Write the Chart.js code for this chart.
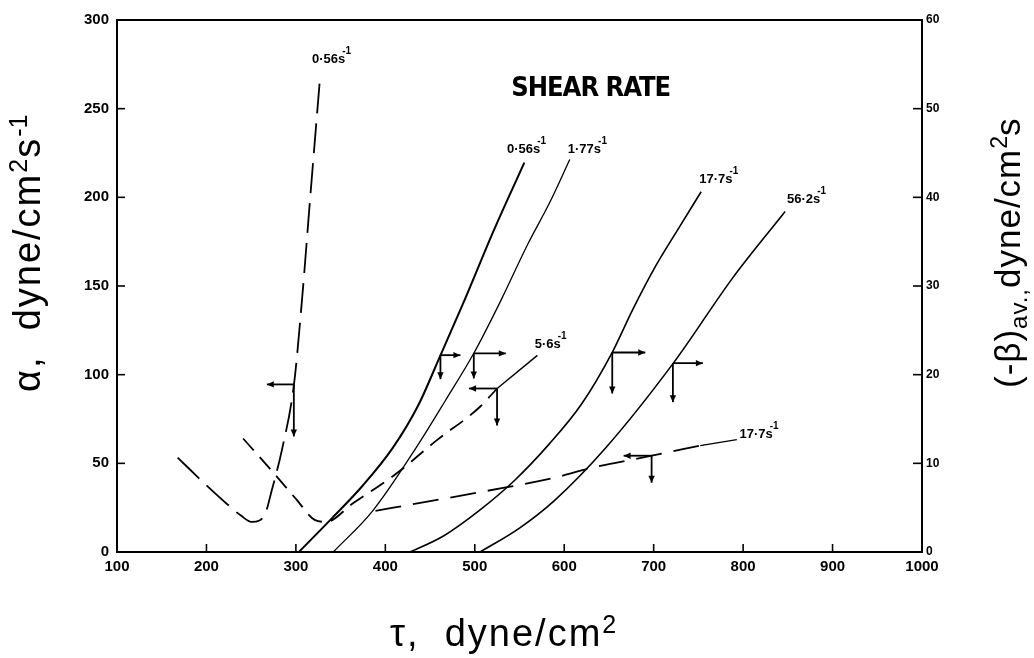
<!DOCTYPE html>
<html><head><meta charset="utf-8">
<script src="https://cdn.jsdelivr.net/npm/chart.js@4.4.0/dist/chart.umd.min.js"></script>
<style>html,body{margin:0;padding:0;background:#fff;}#wrap{width:1034px;height:658px;position:relative;}canvas{display:block;}</style>
</head><body><div id="wrap"><canvas id="c" width="1034" height="658" style="width:1034px;height:658px"></canvas></div>
<script>
// ---- tick labels ----
const X_TICKS = [100,200,300,400,500,600,700,800,900,1000];
const Y_TICKS = [0,50,100,150,200,250,300];
const Y2_TICKS = [0,10,20,30,40,50,60];

// ---- solid curves: (-beta)av vs tau (right axis) ----
const TAU_B056 = [303.4,340.7,374.6,408.5,436.7,461.6,487.6,521.5,555.4];
const BETA_B056 = [0,3.85,7.47,11.77,16.52,22.18,28.18,36.33,43.92];
const TAU_B177 = [341.8,385.9,434.5,467.2,498.9,529.4,558.8,583.6,606.2];
const BETA_B177 = [0,4.64,11.77,17.09,22.41,28.41,34.63,39.38,44.26];
const TAU_B177X = [427.7,465,504.5,544.1,583.6,619.8,653.7,676.3,702.3,728.2,753.1];
const BETA_B177X = [0,1.81,4.64,8.04,12.22,16.75,22.52,27.28,32.26,36.56,40.63];
const TAU_B562 = [506,550,589,646,722,789,847];
const BETA_B562 = [0,2.7,5.8,11.7,21.3,31.0,38.4];

// ---- dashed curves: alpha vs tau (left axis) ----
const TAU_A056 = [167.8,199.4,225.4,239,250.3,259.3,266.1,272.9,284.2,297.7,306.8,315.8,327.1];
const ALPHA_A056 = [53.2,37.9,26,20.4,17,17.8,22.1,34.5,57.2,93.9,142,198.6,268.2];
const TAU_A56 = [241,273,301,321,334,363,412,457,505,525];
const ALPHA_A56 = [64,45.8,29.4,18.1,17.0,27.2,44.1,62.8,81.5,92.2];
const TAU_A177 = [389,439,514,589,631,698,752];
const ALPHA_A177 = [23.2,27.7,34.5,41.9,47.5,54.3,60];

// ---- annotations (data coordinates) ----
const LABEL_TEXT = ['0·56s','0·56s','1·77s','17·7s','56·2s','5·6s','17·7s'];
const LABEL_TAU  = [318,536,604,751,849,567,796];
const LABEL_ALPHA= [275.5,225,225,208,197,115,64.5];
const LEADERS = [[525,92.2,570,110.9],[752,60,793,63.4]];
const ARROW_TAU  = [461.6,498.9,653.7,721.5,297.7,524.9,697.7];
const ARROW_VAL  = [22.2,22.4,22.5,21.3,94.5,92.2,54.3];
const ARROW_AXIS = ['y2','y2','y2','y2','y','y','y'];
const ARROW_DIR  = [1,1,1,1,-1,-1,-1];
const ARROW_H = [20,32,33,30,27,28,28];
const ARROW_D = [24,25,41,39,52,37,27];

const zip = (xs, ys) => xs.map((x,i)=>({x, y: ys[i]}));

function ds(xs, ys, axis, width, dash){
  return {data: zip(xs,ys), yAxisID: axis, borderColor:'#000', borderWidth: width,
    borderDash: dash || [], pointRadius:0, fill:false, cubicInterpolationMode:'monotone', tension:0.4};
}

const TICK_FONT = {family:"'Liberation Sans', Arial, sans-serif", size:15, weight:'bold'};

function drawRich(ctx, parts, x, y, rot){
  ctx.save();
  ctx.translate(x,y); ctx.rotate(rot);
  let cx = 0;
  parts.forEach(p=>{
    ctx.font = p.font;
    ctx.letterSpacing = p.ls || '0px';
    ctx.fillText(p.t, cx, p.dy||0);
    cx += ctx.measureText(p.t).width;
  });
  ctx.restore();
}

function arrowLine(ctx, x1,y1,x2,y2){
  ctx.beginPath(); ctx.moveTo(x1,y1); ctx.lineTo(x2,y2); ctx.stroke();
  const a = Math.atan2(y2-y1,x2-x1), L=7, W=3.2;
  ctx.beginPath();
  ctx.moveTo(x2,y2);
  ctx.lineTo(x2-L*Math.cos(a)+W*Math.sin(a), y2-L*Math.sin(a)-W*Math.cos(a));
  ctx.lineTo(x2-L*Math.cos(a)-W*Math.sin(a), y2-L*Math.sin(a)+W*Math.cos(a));
  ctx.closePath(); ctx.fill();
}

const annot = {
  id:'annot',
  afterDatasetsDraw(chart){
    const {ctx, chartArea:ca, scales} = chart;
    const sx = scales.x, sy = scales.y, sy2 = scales.y2;
    ctx.save();
    ctx.strokeStyle='#000'; ctx.fillStyle='#000';
    ctx.lineWidth=2;
    ctx.beginPath(); ctx.moveTo(ca.left-1, ca.top); ctx.lineTo(ca.right+1, ca.top); ctx.stroke();
    ctx.lineWidth=1.6;
    X_TICKS.forEach(v=>{const p=sx.getPixelForValue(v); ctx.beginPath(); ctx.moveTo(p,ca.bottom); ctx.lineTo(p,ca.bottom-8); ctx.stroke();});
    Y_TICKS.forEach(v=>{const p=sy.getPixelForValue(v); ctx.beginPath(); ctx.moveTo(ca.left,p); ctx.lineTo(ca.left+8,p); ctx.stroke();});
    Y2_TICKS.forEach(v=>{const p=sy2.getPixelForValue(v); ctx.beginPath(); ctx.moveTo(ca.right,p); ctx.lineTo(ca.right-9,p); ctx.stroke();});
    ctx.lineWidth=1.4;
    LEADERS.forEach(l=>{ctx.beginPath(); ctx.moveTo(sx.getPixelForValue(l[0]), sy.getPixelForValue(l[1])); ctx.lineTo(sx.getPixelForValue(l[2]), sy.getPixelForValue(l[3])); ctx.stroke();});
    ctx.lineWidth=1.8;
    ARROW_TAU.forEach((t,i)=>{
      const px = sx.getPixelForValue(t);
      const py = scales[ARROW_AXIS[i]].getPixelForValue(ARROW_VAL[i]);
      arrowLine(ctx, px, py, px+ARROW_DIR[i]*ARROW_H[i], py);
      arrowLine(ctx, px, py, px, py+ARROW_D[i]);
    });
    ctx.textBaseline='alphabetic'; ctx.textAlign='left';
    LABEL_TEXT.forEach((t,i)=>{
      const px = sx.getPixelForValue(LABEL_TAU[i]);
      const py = sy.getPixelForValue(LABEL_ALPHA[i]);
      ctx.font = "bold 13px 'Liberation Sans', Arial, sans-serif";
      ctx.fillText(t, px, py);
      const w = ctx.measureText(t).width;
      ctx.font = "bold 10px 'Liberation Sans', Arial, sans-serif";
      ctx.fillText('-1', px+w-3, py-9);
    });
    ctx.font = "bold 27px 'Liberation Sans Narrow', 'DejaVu Sans Condensed', Arial, sans-serif";
    ctx.letterSpacing='-1px';
    ctx.fillText('SHEAR RATE', sx.getPixelForValue(540.7), sy.getPixelForValue(257));
    ctx.letterSpacing='0px';
    const F = (s)=> s+"px 'Liberation Sans', Arial, sans-serif";
    drawRich(ctx, [
      {t:'τ,  dyne/cm', font:F(38), ls:'2px'},
      {t:'2', font:F(25), dy:-13}
    ], 390, 646, 0);
    drawRich(ctx, [
      {t:'α,  dyne/cm', font:F(38), ls:'2px'},
      {t:'2', font:F(25), dy:-13, ls:'1px'},
      {t:'s', font:F(38), ls:'2px'},
      {t:'-1', font:F(25), dy:-13}
    ], 40, 392, -Math.PI/2);
    drawRich(ctx, [
      {t:'(-β)', font:F(35), ls:'1px'},
      {t:'av.,', font:F(24), dy:7, ls:'1px'},
      {t:'dyne/cm', font:F(35), ls:'1px'},
      {t:'2', font:F(23), dy:-13},
      {t:'s', font:F(35)}
    ], 1020, 388, -Math.PI/2);
    ctx.restore();
  }
};

new Chart(document.getElementById('c'), {
  type:'line',
  data:{datasets:[
    ds(TAU_B056, BETA_B056, 'y2', 2.0),
    ds(TAU_B177, BETA_B177, 'y2', 1.3),
    ds(TAU_B177X, BETA_B177X, 'y2', 1.6),
    ds(TAU_B562, BETA_B562, 'y2', 1.6),
    ds(TAU_A056, ALPHA_A056, 'y', 1.8, [30,10]),
    ds(TAU_A56, ALPHA_A56, 'y', 1.8, [16,9]),
    ds(TAU_A177, ALPHA_A177, 'y', 1.8, [26,12])
  ]},
  options:{
    responsive:false, maintainAspectRatio:false, animation:false, devicePixelRatio:1,
    layout:{padding:{left:0,right:0,top:20,bottom:0}},
    plugins:{legend:{display:false}, tooltip:{enabled:false}},
    scales:{
      x:{type:'linear', min:100, max:1000, position:'bottom',
        afterBuildTicks:s=>{s.ticks=X_TICKS.map(v=>({value:v}));},
        afterFit:s=>{s.height=106;},
        grid:{display:false, drawTicks:false},
        border:{display:true, color:'#000', width:2},
        ticks:{color:'#000', font:TICK_FONT, padding:6, maxRotation:0, autoSkip:false, callback:v=>String(v)}},
      y:{type:'linear', min:0, max:300, position:'left',
        afterBuildTicks:s=>{s.ticks=Y_TICKS.map(v=>({value:v}));},
        afterFit:s=>{s.width=117;},
        grid:{display:false, drawTicks:false},
        border:{display:true, color:'#000', width:2},
        ticks:{color:'#000', font:TICK_FONT, padding:8, autoSkip:false, callback:v=>String(v)}},
      y2:{type:'linear', min:0, max:60, position:'right',
        afterBuildTicks:s=>{s.ticks=Y2_TICKS.map(v=>({value:v}));},
        afterFit:s=>{s.width=112;},
        grid:{display:false, drawTicks:false},
        border:{display:true, color:'#000', width:2},
        ticks:{color:'#000', font:{family:"'Liberation Sans', Arial, sans-serif", size:12, weight:'bold'}, padding:4, autoSkip:false, callback:v=>String(v)}}
    }
  },
  plugins:[annot]
});
</script></body></html>
